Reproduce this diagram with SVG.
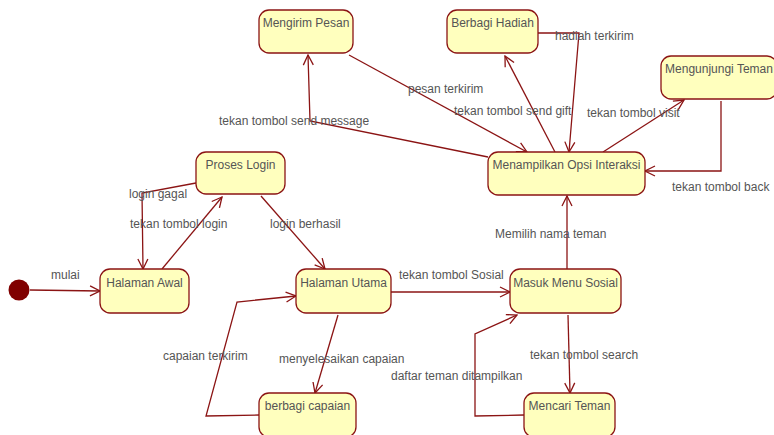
<svg xmlns="http://www.w3.org/2000/svg" width="774" height="435" viewBox="0 0 774 435">
  <defs>
    <marker id="open" viewBox="0 0 12 12" refX="11" refY="6" markerWidth="12" markerHeight="12" markerUnits="userSpaceOnUse" orient="auto">
      <path d="M1,1 L11,6 L1,11" fill="none" stroke="#8b1414" stroke-width="1.3"/>
    </marker>
  </defs>
  <style>
    .node rect { fill: #ffffbe; stroke: #8b1414; stroke-width: 1.3; }
    .node text { font-family: "Liberation Sans", Arial, sans-serif; font-size: 12px; fill: #555; text-anchor: middle; }
    .edge { fill: none; stroke: #8b1414; stroke-width: 1.3; marker-end: url(#open); }
    .lbl { font-family: "Liberation Sans", Arial, sans-serif; font-size: 12px; fill: #555; }
  </style>
  <rect width="774" height="435" fill="#fff"/>

  <g id="connectors">
    <path class="edge" d="M30,290 L100,291"/>
    <path class="edge" d="M162,269 L222,197"/>
    <path class="edge" d="M196,183 L142,193 L143,269"/>
    <path class="edge" d="M261,196 L325,269"/>
    <path class="edge" d="M391,292 L510,292"/>
    <path class="edge" d="M338,315 L315,393"/>
    <path class="edge" d="M259,415 L206,416 L237,302 L296,296"/>
    <path class="edge" d="M568,315 L570,393"/>
    <path class="edge" d="M524,415 L475,416 L475,334 L517,315"/>
    <path class="edge" d="M567,269 L567,196"/>
    <path class="edge" d="M488,157 L310,121 L308,55"/>
    <path class="edge" d="M349,55 L527,152"/>
    <path class="edge" d="M555,152 L505,56"/>
    <path class="edge" d="M538,33 L579,33 L569,152"/>
    <path class="edge" d="M603,152 L684,100"/>
    <path class="edge" d="M721,101 L721,171 L645,171"/>

    <text class="lbl" x="51" y="279">mulai</text>
    <text class="lbl" x="130" y="228">tekan tombol login</text>
    <text class="lbl" x="129" y="198">login gagal</text>
    <text class="lbl" x="270" y="228">login berhasil</text>
    <text class="lbl" x="399" y="279">tekan tombol Sosial</text>
    <text class="lbl" x="279" y="363">menyelesaikan capaian</text>
    <text class="lbl" x="163" y="360">capaian terkirim</text>
    <text class="lbl" x="530" y="359">tekan tombol search</text>
    <text class="lbl" x="391" y="380">daftar teman ditampilkan</text>
    <text class="lbl" x="495" y="238">Memilih nama teman</text>
    <text class="lbl" x="219" y="125">tekan tombol send message</text>
    <text class="lbl" x="408" y="93">pesan terkirim</text>
    <text class="lbl" x="454" y="115">tekan tombol send gift</text>
    <text class="lbl" x="555" y="40">hadiah terkirim</text>
    <text class="lbl" x="587" y="117">tekan tombol visit</text>
    <text class="lbl" x="672" y="191">tekan tombol back</text>
  </g>

  <g id="initial">
    <circle cx="19" cy="290" r="10.5" fill="#800000"/>
  </g>
  <g id="halaman-awal" class="node">
    <rect x="100" y="269" width="89" height="44" rx="10"/>
    <text x="144.5" y="287">Halaman Awal</text>
  </g>
  <g id="proses-login" class="node">
    <rect x="196" y="152" width="89" height="42" rx="10"/>
    <text x="240.5" y="169">Proses Login</text>
  </g>
  <g id="halaman-utama" class="node">
    <rect x="296" y="269" width="95" height="44" rx="10"/>
    <text x="343.5" y="287">Halaman Utama</text>
  </g>
  <g id="berbagi-capaian" class="node">
    <rect x="259" y="393" width="97" height="44" rx="10"/>
    <text x="307.5" y="410">berbagi capaian</text>
  </g>
  <g id="masuk-menu-sosial" class="node">
    <rect x="510" y="269" width="111" height="44" rx="10"/>
    <text x="565.5" y="287">Masuk Menu Sosial</text>
  </g>
  <g id="mencari-teman" class="node">
    <rect x="524" y="393" width="91" height="44" rx="10"/>
    <text x="569.5" y="410">Mencari Teman</text>
  </g>
  <g id="mengirim-pesan" class="node">
    <rect x="259" y="10" width="94" height="43" rx="10"/>
    <text x="306" y="27">Mengirim Pesan</text>
  </g>
  <g id="berbagi-hadiah" class="node">
    <rect x="447" y="10" width="91" height="43" rx="10"/>
    <text x="492.5" y="27">Berbagi Hadiah</text>
  </g>
  <g id="mengunjungi-teman" class="node">
    <rect x="661" y="56" width="116" height="43" rx="10"/>
    <text x="719" y="73">Mengunjungi Teman</text>
  </g>
  <g id="menampilkan-opsi" class="node">
    <rect x="488" y="152" width="157" height="43" rx="10"/>
    <text x="566.5" y="169">Menampilkan Opsi Interaksi</text>
  </g>
</svg>
